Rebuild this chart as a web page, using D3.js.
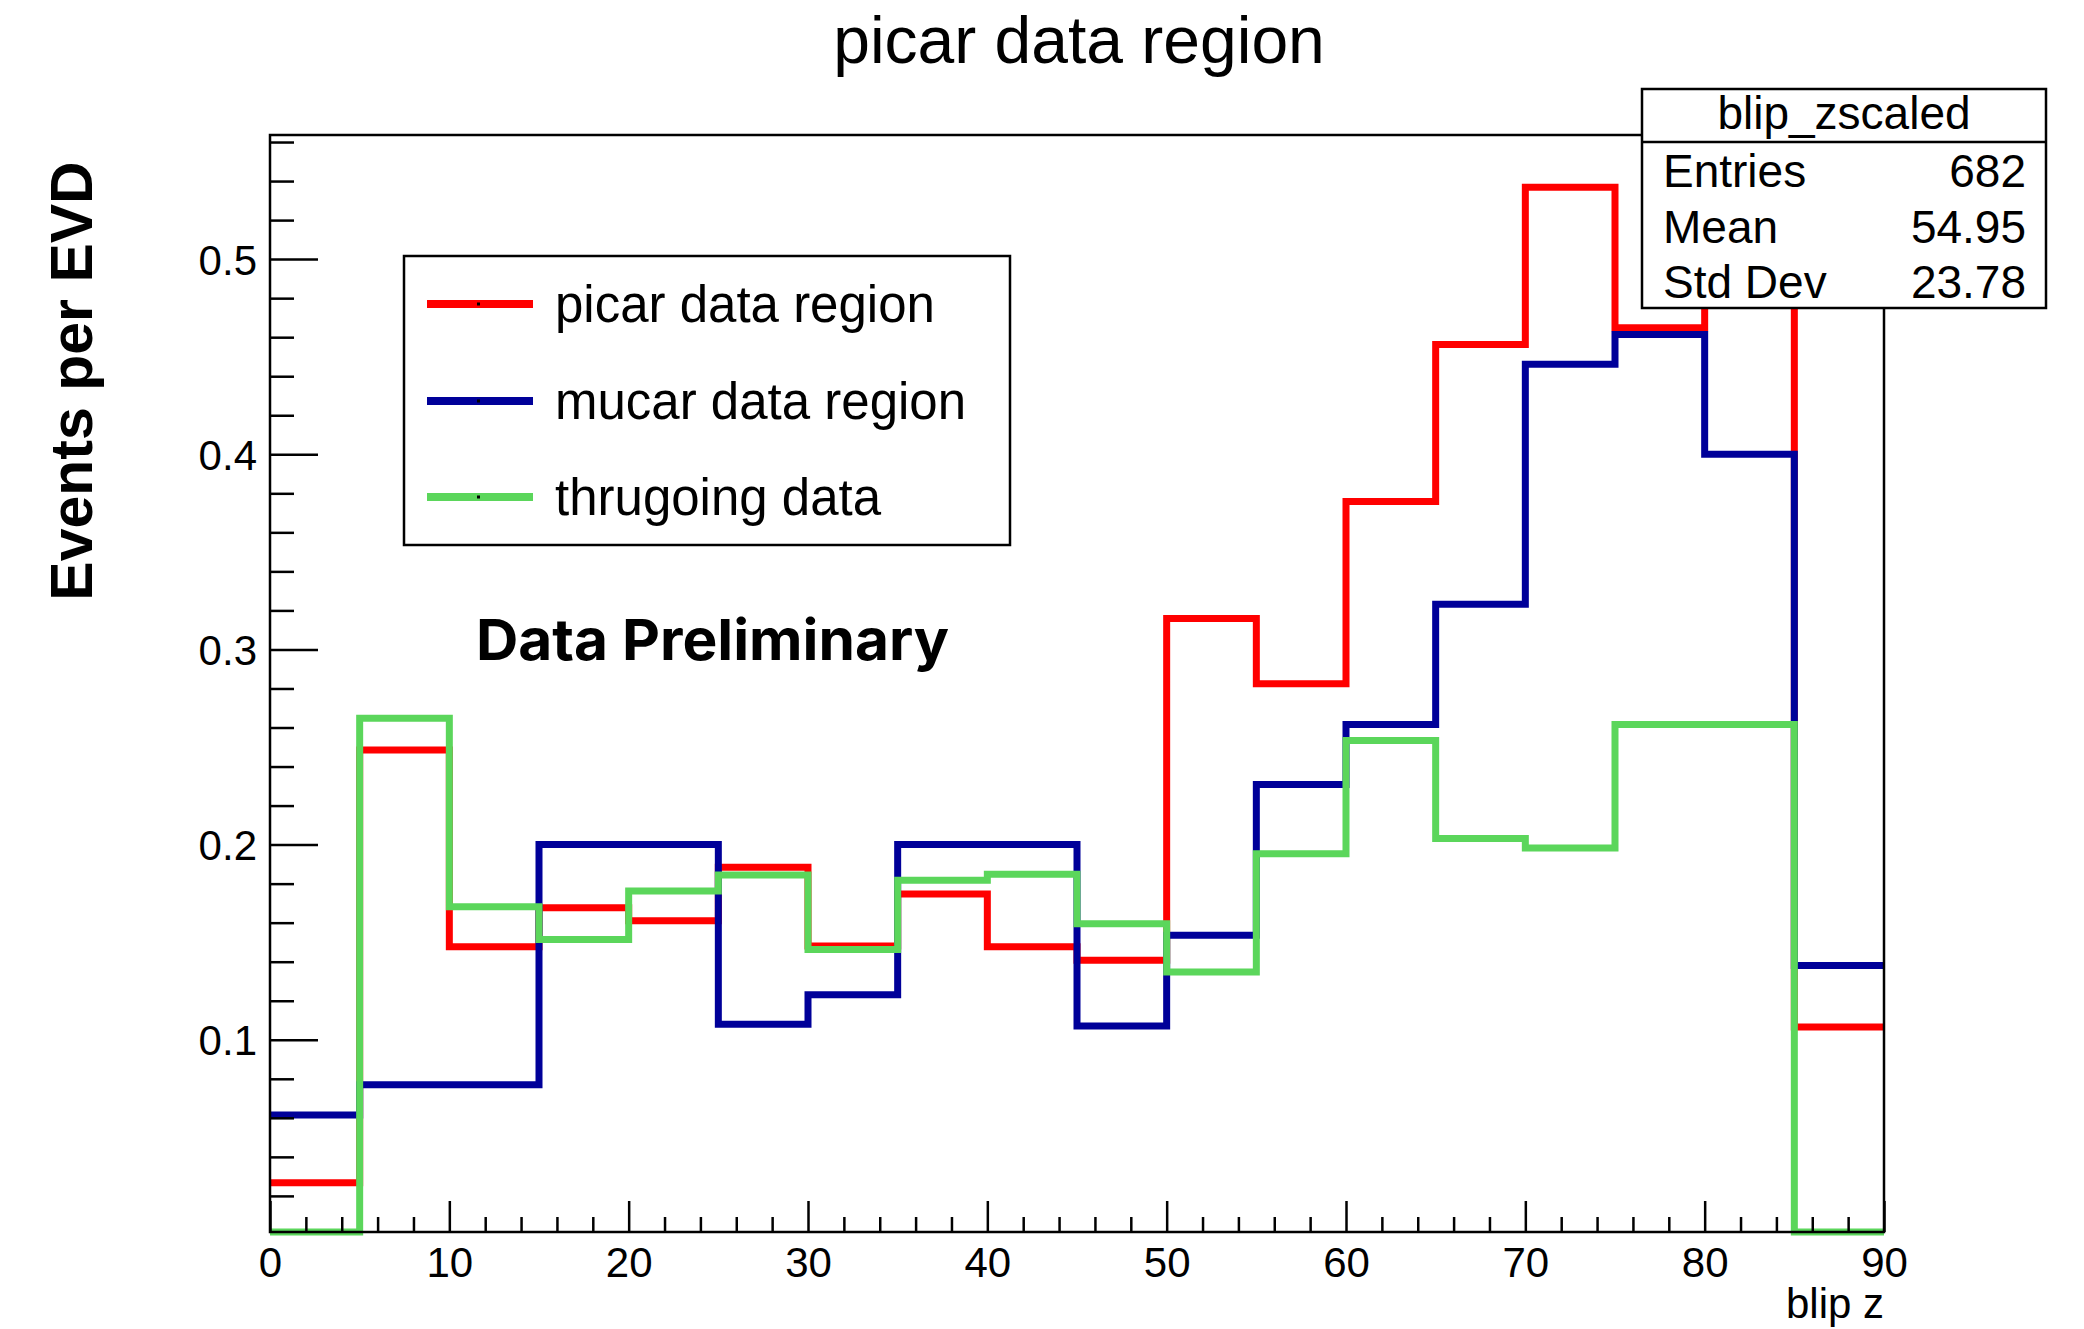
<!DOCTYPE html>
<html>
<head>
<meta charset="utf-8">
<script src="https://cdn.jsdelivr.net/npm/d3@7"></script>
<style>
  html, body { margin: 0; padding: 0; background: #fff; }
  svg { display: block; }
  text { font-family: "Liberation Sans", Arial, Helvetica, sans-serif; fill: #000; }
</style>
</head>
<body>
<svg id="chart" width="2084" height="1329"></svg>
<script>
// Bin edges of blip z (18 bins, width 5)
const binEdges = [0, 5, 10, 15, 20, 25, 30, 35, 40, 45, 50, 55, 60, 65, 70, 75, 80, 85, 90];

// Events per EVD in each bin
const picarValues = [0.0267, 0.2485, 0.1476, 0.1676, 0.1610, 0.1884, 0.1481, 0.1747, 0.1476, 0.1408,
                     0.3158, 0.2824, 0.3758, 0.4563, 0.5368, 0.4648, 0.4900, 0.1066];
const mucarValues = [0.0615, 0.0769, 0.0769, 0.2000, 0.2000, 0.1079, 0.1231, 0.2000, 0.2000, 0.1070,
                     0.1535, 0.2308, 0.2616, 0.3232, 0.4461, 0.4614, 0.4000, 0.1380];
const thruValues  = [0.0000, 0.2647, 0.1682, 0.1514, 0.1762, 0.1844, 0.1462, 0.1818, 0.1848, 0.1594,
                     0.1347, 0.1953, 0.2533, 0.2031, 0.1982, 0.2616, 0.2616, 0.0000];

const seriesNames  = ["picar data region", "mucar data region", "thrugoing data"];
const seriesColors = ["#ff0000", "#000099", "#5bd65b"];

const xMajorTicks = [0, 10, 20, 30, 40, 50, 60, 70, 80, 90];
const yMajorTicks = [0.1, 0.2, 0.3, 0.4, 0.5];

const statsTitle  = "blip_zscaled";
const statsLabels = ["Entries", "Mean", "Std Dev"];
const statsValues = ["682", "54.95", "23.78"];

const plotTitle = "picar data region";
const xTitle = "blip z";
const yTitle = "Events per EVD";
const watermark = "Data Preliminary";

// ---- layout ----
const frame = { left: 270, right: 1884, top: 135, bottom: 1232 };
const svg = d3.select("#chart");

const x = d3.scaleLinear().domain([0, 90]).range([frame.left, frame.right]);
const y = d3.scaleLinear().domain([0.0015, 0.5636]).range([frame.bottom, frame.top]).clamp(true);

// minor ticks
const xMinorTicks = d3.range(0, 46).map(i => i * 2).filter(v => v % 10 !== 0);
const yMinorTicks = d3.range(1, 29).map(i => i / 50).filter(v => Math.round(v * 50) % 5 !== 0);

// ---- histograms ----
function stepPoints(values) {
  const pts = [];
  values.forEach((v, i) => {
    pts.push([binEdges[i], v]);
    pts.push([binEdges[i + 1], v]);
  });
  return pts;
}
const line = d3.line().x(d => x(d[0])).y(d => y(d[1]));

const histG = svg.append("g");
[picarValues, mucarValues, thruValues].forEach((vals, k) => {
  histG.append("path")
    .attr("d", line(stepPoints(vals)))
    .attr("fill", "none")
    .attr("stroke", seriesColors[k])
    .attr("stroke-width", 7)
    .attr("stroke-linejoin", "miter")
    .attr("stroke-linecap", "butt");
});

// ---- frame ----
svg.append("rect")
  .attr("x", frame.left).attr("y", frame.top)
  .attr("width", frame.right - frame.left).attr("height", frame.bottom - frame.top)
  .attr("fill", "none").attr("stroke", "#000").attr("stroke-width", 2.5);

// ---- axes ----
function styleAxis(g) {
  g.selectAll("path.domain").remove();
  g.selectAll(".tick line").attr("stroke", "#000").attr("stroke-width", 2.5);
  g.selectAll(".tick text")
    .attr("fill", "#000")
    .style("font-family", '"Liberation Sans", Arial, sans-serif')
    .style("font-size", "42px");
}

// y axis: major & minor ticks pointing into the frame
svg.append("g")
  .attr("transform", `translate(${frame.left},0)`)
  .call(d3.axisLeft(y).tickValues(yMinorTicks).tickSizeInner(-24).tickSizeOuter(0).tickFormat(""))
  .call(styleAxis);
svg.append("g")
  .attr("transform", `translate(${frame.left},0)`)
  .call(d3.axisLeft(y).tickValues(yMajorTicks).tickSizeInner(-48).tickSizeOuter(0)
        .tickPadding(13).tickFormat(d3.format(".1f")))
  .call(styleAxis)
  .call(g => g.selectAll(".tick text").attr("dy", "0.36em"));

// x axis
svg.append("g")
  .attr("transform", `translate(0,${frame.bottom})`)
  .call(d3.axisBottom(x).tickValues(xMinorTicks).tickSizeInner(-15).tickSizeOuter(0).tickFormat(""))
  .call(styleAxis);
svg.append("g")
  .attr("transform", `translate(0,${frame.bottom})`)
  .call(d3.axisBottom(x).tickValues(xMajorTicks).tickSizeInner(-31).tickSizeOuter(0)
        .tickPadding(0).tickFormat(d3.format("d")))
  .call(styleAxis)
  .call(g => g.selectAll(".tick text").attr("y", 0).attr("dy", 0)
        .attr("transform", "translate(0,45)"));

// axis titles
svg.append("text")
  .attr("x", frame.right).attr("y", 1318)
  .attr("text-anchor", "end")
  .style("font-size", "42px")
  .text(xTitle);

svg.append("text")
  .attr("transform", "translate(92,381) rotate(-90)")
  .attr("text-anchor", "middle")
  .style("font-size", "59px")
  .style("font-weight", "bold")
  .text(yTitle);

// title
svg.append("text")
  .attr("x", 1079).attr("y", 63)
  .attr("text-anchor", "middle")
  .style("font-size", "66px")
  .text(plotTitle);

// ---- legend ----
const legend = { left: 404, top: 256, right: 1010, bottom: 545 };
svg.append("rect")
  .attr("x", legend.left).attr("y", legend.top)
  .attr("width", legend.right - legend.left).attr("height", legend.bottom - legend.top)
  .attr("fill", "#fff").attr("stroke", "#000").attr("stroke-width", 2.5);
const legendRows = [304, 401, 497];
seriesNames.forEach((name, k) => {
  const cy = legendRows[k];
  svg.append("line")
    .attr("x1", 427).attr("x2", 533).attr("y1", cy).attr("y2", cy)
    .attr("stroke", seriesColors[k]).attr("stroke-width", 8);
  svg.append("rect")
    .attr("x", 477).attr("y", cy - 1.5).attr("width", 3).attr("height", 3)
    .attr("fill", "#000");
  svg.append("text")
    .attr("x", 555).attr("y", cy)
    .attr("dy", "0.35em")
    .style("font-size", "51px")
    .text(name);
});

// watermark
svg.append("text")
  .attr("x", 476).attr("y", 660)
  .attr("textLength", 473).attr("lengthAdjust", "spacingAndGlyphs")
  .style("font-family", "Inter, 'Open Sans', sans-serif")
  .style("font-weight", "700")
  .style("font-size", "57px")
  .text(watermark);

// ---- statistics box ----
const stats = { left: 1642, top: 89, right: 2046, bottom: 308, divider: 142 };
svg.append("rect")
  .attr("x", stats.left).attr("y", stats.top)
  .attr("width", stats.right - stats.left).attr("height", stats.bottom - stats.top)
  .attr("fill", "#fff").attr("stroke", "#000").attr("stroke-width", 2.5);
svg.append("line")
  .attr("x1", stats.left).attr("x2", stats.right)
  .attr("y1", stats.divider).attr("y2", stats.divider)
  .attr("stroke", "#000").attr("stroke-width", 2.5);
svg.append("text")
  .attr("x", (stats.left + stats.right) / 2).attr("y", 129)
  .attr("text-anchor", "middle")
  .style("font-size", "46px")
  .text(statsTitle);
const statRows = [187, 243, 298];
statsLabels.forEach((lab, i) => {
  svg.append("text")
    .attr("x", 1663).attr("y", statRows[i])
    .style("font-size", "46px")
    .text(lab);
  svg.append("text")
    .attr("x", 2026).attr("y", statRows[i])
    .attr("text-anchor", "end")
    .style("font-size", "46px")
    .text(statsValues[i]);
});
</script>
</body>
</html>
